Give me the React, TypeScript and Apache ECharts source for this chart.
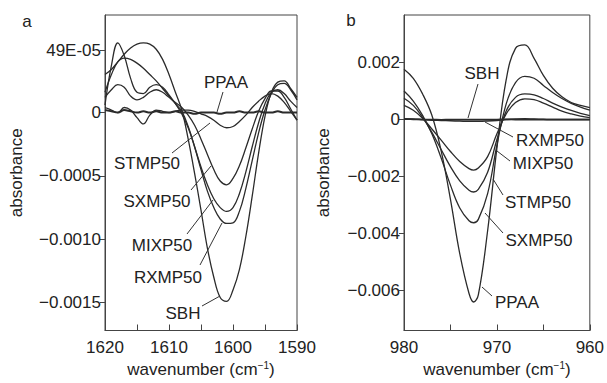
import React, { useEffect, useRef } from "react";
import * as echarts from "echarts";

// ---------- Panel a (1620–1590 cm-1) ----------
const waveA = [1620, 1619, 1618, 1617, 1616, 1615, 1614, 1613, 1612, 1611, 1610, 1609, 1608, 1607, 1606, 1605, 1604, 1603, 1602, 1601, 1600, 1599, 1598, 1597, 1596, 1595, 1594, 1593, 1592, 1591, 1590];
const sbhA = [0.0003, 0.00034, 0.0004, 0.00046, 0.00051, 0.00054, 0.00055, 0.00054, 0.0005, 0.00042, 0.0003, 0.00016, 0.00002, -0.00021, -0.00048, -0.00077, -0.00107, -0.0013, -0.00146, -0.00149, -0.0014, -0.00124, -0.00098, -0.00066, -0.00032, -0.00003, 0.00016, 0.00024, 0.00025, 0.00019, 0.00012];
const rxmpA = [0.00016, 0.0003, 0.0004, 0.00043, 0.00042, 0.00039, 0.00035, 0.0003, 0.00025, 0.00019, 0.00013, 0.00007, 0.00001, -0.00011, -0.00027, -0.00045, -0.00062, -0.00075, -0.00084, -0.000875, -0.00087, -0.00078, -0.0006, -0.00038, -0.00016, 0.00002, 0.00015, 0.00022, 0.00023, 0.00018, 0.0001];
const mixpA = [0.00006, 0.00037, 0.00055, 0.00045, 0.00027, 0.00016, 0.00015, 0.0002, 0.00022, 0.0002, 0.00014, 0.00007, -0.00001, -0.00012, -0.00027, -0.00043, -0.00057, -0.00068, -0.00075, -0.00078, -0.00075, -0.00064, -0.00047, -0.00027, -0.00008, 0.00007, 0.00016, 0.00018, 0.00015, 0.00009, 0.00004];
const sxmpA = [0.00012, 0.00018, 0.00022, 0.0002, 0.00013, 0.0001, 0.00012, 0.00016, 0.00018, 0.00016, 0.00012, 0.00008, 0.00004, -0.00002, -0.0001, -0.00021, -0.00033, -0.00045, -0.00054, -0.00057, -0.00052, -0.00042, -0.00028, -0.00013, 0.00001, 0.00011, 0.00017, 0.00017, 0.00012, 0.00003, -0.00006];
const stmpA = [0.00004, 0.00002, 0.0, 0.00004, 0.00002, -0.00004, -0.00009, -0.00002, 0.00002, 0.00001, 0.0, 0.00001, 0.00002, 0.00002, 0.00001, -0.00001, -0.00003, -0.00006, -0.0001, -0.00012, -0.00011, -0.00007, -0.00002, 0.00004, 0.00009, 0.00013, 0.00015, 0.00013, 0.00008, 0.00001, -0.00006];
const ppaaA = [0.00002, 0.00001, 0.0, 0.00002, 0.00001, 0.0, 0.00001, 0.0, 0.00001, 0.0, 0.0, 0.00001, 0.0, 0.0, -0.00001, 0.0, 0.0, 0.0, -0.00001, 0.0, 0.0, 0.00001, 0.0, 0.0, 0.00001, 0.0, 0.0, 0.00001, 0.0, 0.0, 0.0];
const yTicksA = [-0.0015, -0.001, -0.0005, 0, 0.00049];
const yLabelsA = ["\u22120.0015", "\u22120.0010", "\u22120.0005", "0", "49E-05"];
const xLabelsA = [1620, 1610, 1600, 1590];

// ---------- Panel b (980–960 cm-1) ----------
const waveB = [980, 979, 978, 977, 976, 975, 974, 973, 972.5, 972, 971, 970, 969, 968, 967, 966, 965, 964, 963, 962, 961, 960];
const ppaaB = [0.00177, 0.00145, 0.0009, 0.00015, -0.0011, -0.0028, -0.0047, -0.0061, -0.0064, -0.00615, -0.0039, -0.001, 0.0014, 0.0025, 0.00262, 0.00215, 0.00155, 0.0011, 0.0008, 0.0006, 0.0005, 0.00042];
const sxmpB = [0.001, 0.00065, 0.00015, -0.0005, -0.00135, -0.0023, -0.0031, -0.00355, -0.00362, -0.0035, -0.0026, -0.0009, 0.00055, 0.0013, 0.00152, 0.00145, 0.0012, 0.00095, 0.00074, 0.00057, 0.00044, 0.00033];
const stmpB = [0.00075, 0.0005, 0.00008, -0.00045, -0.00105, -0.00165, -0.00215, -0.00248, -0.00254, -0.00245, -0.00185, -0.0007, 0.0003, 0.00078, 0.0009, 0.00087, 0.00074, 0.00058, 0.00044, 0.00032, 0.00022, 0.00014];
const mixpB = [0.0005, 0.00033, 0.00005, -0.00033, -0.00072, -0.00112, -0.00147, -0.00172, -0.00177, -0.0017, -0.0013, -0.0005, 0.0002, 0.0006, 0.00073, 0.0007, 0.00058, 0.00044, 0.0003, 0.0002, 0.00012, 0.00007];
const rxmpB = [0.00003, 0.00002, 0.0, -0.00002, -0.00003, -0.00004, -0.00005, -0.00006, -0.00006, -0.00006, -0.00005, -0.00003, 0.0, 0.00002, 0.00003, 0.00002, 0.00001, 0.0, 0.0, 0.0, 0.0, 0.0];
const sbhB = [0.00002, 0.00001, 0.0, 0.0, -0.00001, 0.0, 0.0, 0.0, 0.0, 0.0, 0.0, 0.0, 0.00001, 0.0, 0.0, 0.0, 0.0, 0.0, 0.0, 0.0, 0.0, 0.0];
const yTicksB = [-0.006, -0.004, -0.002, 0, 0.002];
const yLabelsB = ["\u22120.006", "\u22120.004", "\u22120.002", "0", "0.002"];
const xLabelsB = [980, 970, 960];

const FONT = "'Liberation Sans', Arial, Helvetica, sans-serif";
const FS = 17;
const LINE = "#2b2b2b";
const TXT = "#222";

function zip(xs: number[], ys: number[]) {
  return xs.map((x, i) => [x, ys[i]]);
}

function labelFor(ticks: number[], labels: string[]) {
  return (v: number) => {
    let best = -1;
    let bd = Infinity;
    ticks.forEach((t, i) => {
      const d = Math.abs(t - v);
      if (d < bd) { bd = d; best = i; }
    });
    return bd < 1e-7 ? labels[best] : "";
  };
}

export default function App() {
  const ref = useRef<HTMLDivElement>(null);
  useEffect(() => {
    if (!ref.current) return;
    const chart = echarts.init(ref.current, undefined, { renderer: "svg" });

    const xAxisCommon = (min: number, max: number, labels: number[]) => ({
      type: "value",
      inverse: true,
      min,
      max,
      interval: 5,
      axisLine: { show: true, onZero: false, lineStyle: { color: "#444", width: 1 } },
      axisTick: { show: true, inside: true, length: 6, lineStyle: { color: "#444" } },
      axisLabel: {
        color: TXT,
        fontFamily: FONT,
        fontSize: FS,
        margin: 8,
        formatter: (v: number) => (labels.includes(v) ? String(v) : ""),
      },
      splitLine: { show: false },
      name: "wavenumber (cm{sup|\u22121})",
      nameLocation: "middle",
      nameGap: 30,
      nameTextStyle: {
        color: TXT,
        fontFamily: FONT,
        fontSize: FS,
        rich: { sup: { fontSize: 10, fontFamily: FONT, color: TXT, verticalAlign: "top", padding: [0, 0, 8, 0] } },
      },
    });

    const yAxisCommon = (min: number, max: number, ticks: number[], labels: string[], gap: number) => ({
      type: "value",
      min,
      max,
      axisLine: { show: true, onZero: false, lineStyle: { color: "#444", width: 1 } },
      axisTick: { show: true, inside: false, length: 5, customValues: ticks, lineStyle: { color: "#444" } },
      axisLabel: {
        color: TXT,
        fontFamily: FONT,
        fontSize: FS,
        margin: 4,
        customValues: ticks,
        formatter: labelFor(ticks, labels),
      },
      splitLine: { show: false },
      name: "absorbance",
      nameLocation: "middle",
      nameGap: gap,
      nameTextStyle: { color: TXT, fontFamily: FONT, fontSize: FS },
    });

    const line = (name: string, xs: number[], ys: number[], idx: number, w = 1.3) => ({
      name,
      type: "line",
      xAxisIndex: idx,
      yAxisIndex: idx,
      data: zip(xs, ys),
      smooth: 0.4,
      showSymbol: false,
      symbol: "none",
      lineStyle: { color: LINE, width: w },
      silent: true,
    });

    const t = (text: string, x: number, y: number, size = FS) => ({
      type: "text",
      x,
      y,
      style: { text, font: `${size}px ${FONT}`, fill: TXT, align: "center", verticalAlign: "middle" },
      z: 100,
    });
    const ln = (x1: number, y1: number, x2: number, y2: number) => ({
      type: "line",
      shape: { x1, y1, x2, y2 },
      style: { stroke: "#333", lineWidth: 1 },
      z: 100,
    });

    chart.setOption({
      animation: false,
      backgroundColor: "#fff",
      grid: [
        { left: 105, right: 310, top: 15, bottom: 50, show: true, borderColor: "#444", borderWidth: 1, backgroundColor: "transparent" },
        { left: 404, right: 14, top: 15, bottom: 50, show: true, borderColor: "#444", borderWidth: 1, backgroundColor: "transparent" },
      ],
      xAxis: [
        { ...xAxisCommon(1590, 1620, xLabelsA), gridIndex: 0 },
        { ...xAxisCommon(960, 980, xLabelsB), gridIndex: 1 },
      ],
      yAxis: [
        { ...yAxisCommon(-0.00172, 0.00077, yTicksA, yLabelsA, 80), gridIndex: 0 },
        { ...yAxisCommon(-0.0074, 0.00367, yTicksB, yLabelsB, 72), gridIndex: 1 },
      ],
      series: [
        line("SBH", waveA, sbhA, 0),
        line("RXMP50", waveA, rxmpA, 0),
        line("MIXP50", waveA, mixpA, 0),
        line("SXMP50", waveA, sxmpA, 0),
        line("STMP50", waveA, stmpA, 0),
        line("PPAA", waveA, ppaaA, 0, 2),
        line("PPAA", waveB, ppaaB, 1),
        line("SXMP50", waveB, sxmpB, 1),
        line("STMP50", waveB, stmpB, 1),
        line("MIXP50", waveB, mixpB, 1),
        line("RXMP50", waveB, rxmpB, 1, 1.5),
        line("SBH", waveB, sbhB, 1, 1.8),
      ],
      graphic: { elements: [
        t("a", 27, 21),
        t("b", 351, 20),
        // panel a annotations
        t("PPAA", 226, 82), ln(223, 92, 217, 112),
        t("STMP50", 147, 163), ln(172, 153, 210, 123),
        t("SXMP50", 157, 201), ln(191, 190, 211, 166),
        t("MIXP50", 162, 245), ln(187, 234, 213, 200),
        t("RXMP50", 168, 277), ln(200, 265, 222, 223),
        t("SBH", 183, 313), ln(202, 306, 220, 296),
        // panel b annotations
        t("SBH", 482, 73), ln(478, 84, 468, 118),
        t("RXMP50", 550, 140), ln(513, 137, 485, 122),
        t("MIXP50", 543, 163), ln(510, 161, 497, 151),
        t("STMP50", 538, 202), ln(503, 195, 493, 179),
        t("SXMP50", 539, 240), ln(503, 233, 485, 213),
        t("PPAA", 517, 302), ln(492, 296, 482, 287),
      ] },
    });
    return () => chart.dispose();
  }, []);
  return <div ref={ref} style={{ width: 607, height: 383, position: "absolute", left: 0, top: 0 }} />;
}
